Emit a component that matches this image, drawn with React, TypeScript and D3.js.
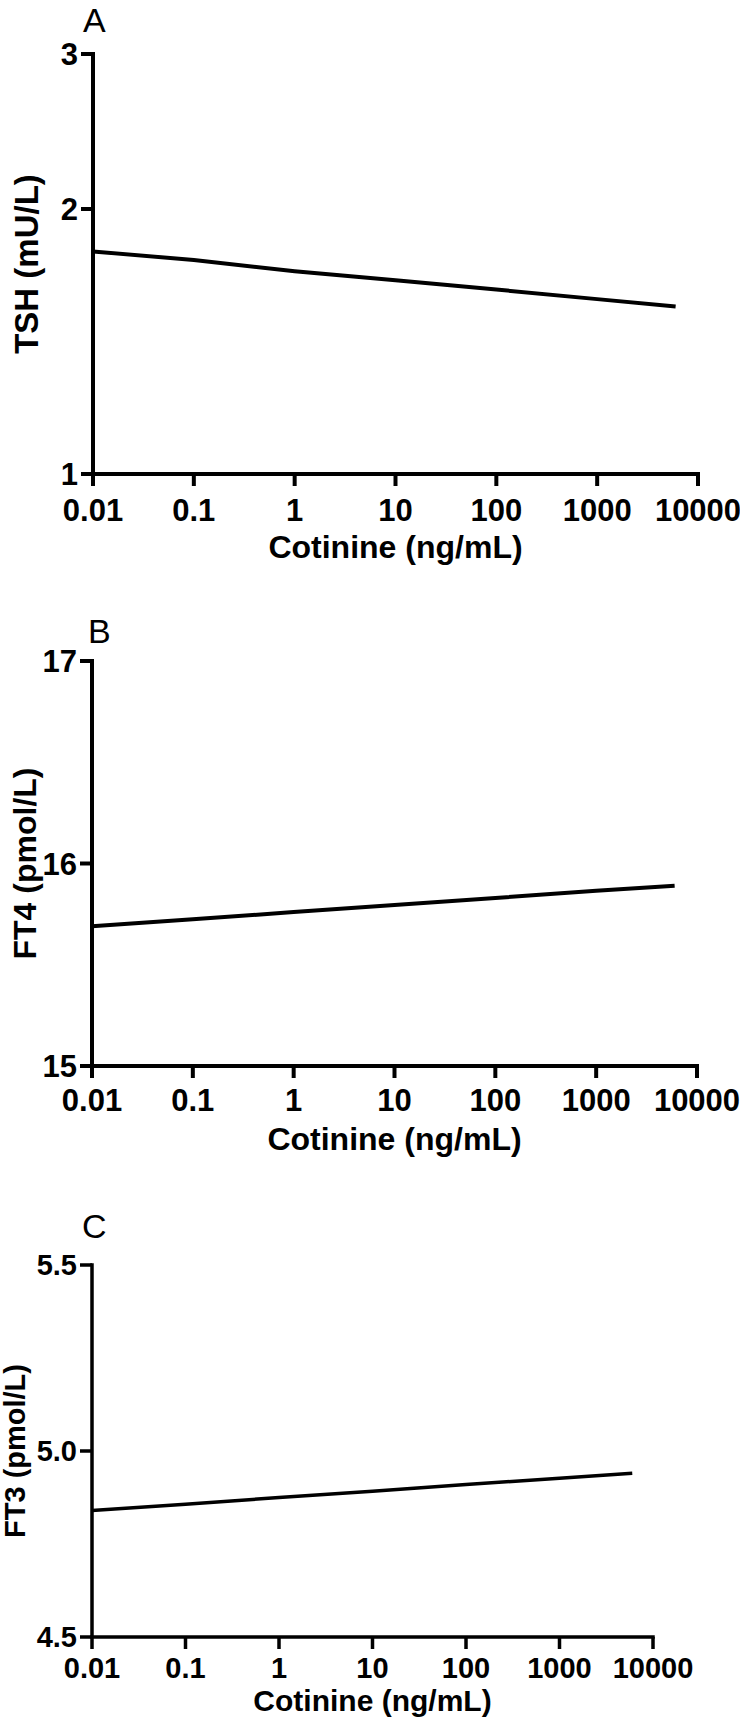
import React from "react";
import * as d3 from "d3";

// ---- data ----
const cotinineTicks = [0.01, 0.1, 1, 10, 100, 1000, 10000];
const cotinineTickLabels = ["0.01", "0.1", "1", "10", "100", "1000", "10000"];
const cotinine = [0.01, 0.1, 1, 10, 100, 1000, 6000];

const tsh = [1.79, 1.75, 1.7, 1.66, 1.62, 1.58, 1.55];
const tshTicks = [1, 2, 3];
const tshTickLabels = ["1", "2", "3"];

const ft4 = [15.69, 15.725, 15.76, 15.795, 15.83, 15.865, 15.89];
const ft4Ticks = [15, 16, 17];
const ft4TickLabels = ["15", "16", "17"];

const ft3 = [4.84, 4.857, 4.875, 4.892, 4.91, 4.927, 4.94];
const ft3Ticks = [4.5, 5.0, 5.5];
const ft3TickLabels = ["4.5", "5.0", "5.5"];

const xTitle = "Cotinine (ng/mL)";

const FONT = "'Liberation Sans', Arial, Helvetica, sans-serif";
const NARROW = "'Liberation Sans Narrow', 'Arial Narrow', 'Liberation Sans', Arial, sans-serif";

type PanelProps = {
  letter: string;
  letterX: number;
  letterY: number;
  yTitle: string;
  yTitleX: number;
  yTitleSize: number;
  x0: number;
  x1: number;
  yTop: number;
  yBot: number;
  yLog: boolean;
  yTicks: number[];
  yTickLabels: string[];
  values: number[];
  tickSize: number;
  xTitleSize: number;
  xLabelOffset: number;
  xTitleOffset: number;
  axisWidth: number;
  lineWidth: number;
};

function Panel(p: PanelProps) {
  const x = d3.scaleLog().domain([0.01, 10000]).range([p.x0, p.x1]);
  const yDomain = [p.yTicks[0], p.yTicks[p.yTicks.length - 1]];
  const y = p.yLog
    ? d3.scaleLog().domain(yDomain).range([p.yBot, p.yTop])
    : d3.scaleLinear().domain(yDomain).range([p.yBot, p.yTop]);
  const line = d3
    .line<number>()
    .x((_, i) => x(cotinine[i]))
    .y((d) => y(d));
  const tickLen = 12;
  const yMid = (p.yTop + p.yBot) / 2;
  return (
    <g>
      <text x={p.letterX} y={p.letterY} fontFamily={FONT} fontSize={34} fill="#000">
        {p.letter}
      </text>
      <line
        x1={p.x0}
        x2={p.x0}
        y1={p.yTop - p.axisWidth / 2}
        y2={p.yBot}
        stroke="#000"
        strokeWidth={p.axisWidth}
      />
      {p.yTicks.map((t, i) => (
        <g key={"y" + i}>
          <line
            x1={p.x0 - tickLen}
            x2={p.x0}
            y1={y(t)}
            y2={y(t)}
            stroke="#000"
            strokeWidth={p.axisWidth}
          />
          <text
            x={p.x0 - 15}
            y={y(t)}
            dy="0.36em"
            textAnchor="end"
            fontFamily={NARROW}
            fontWeight="bold"
            fontSize={p.tickSize}
            fill="#000"
          >
            {p.yTickLabels[i]}
          </text>
        </g>
      ))}
      <line
        x1={p.x0 - p.axisWidth / 2}
        x2={p.x1 + p.axisWidth / 2}
        y1={p.yBot}
        y2={p.yBot}
        stroke="#000"
        strokeWidth={p.axisWidth}
      />
      {cotinineTicks.map((t, i) => (
        <g key={"x" + i}>
          <line
            x1={x(t)}
            x2={x(t)}
            y1={p.yBot}
            y2={p.yBot + tickLen}
            stroke="#000"
            strokeWidth={p.axisWidth}
          />
          <text
            x={x(t)}
            y={p.yBot + p.xLabelOffset}
            textAnchor="middle"
            fontFamily={NARROW}
            fontWeight="bold"
            fontSize={p.tickSize}
            fill="#000"
          >
            {cotinineTickLabels[i]}
          </text>
        </g>
      ))}
      <text
        x={(p.x0 + p.x1) / 2}
        y={p.yBot + p.xTitleOffset}
        textAnchor="middle"
        fontFamily={FONT}
        fontWeight="bold"
        fontSize={p.xTitleSize}
        fill="#000"
      >
        {xTitle}
      </text>
      <text
        transform={`translate(${p.yTitleX},${yMid}) rotate(-90)`}
        dy="0.36em"
        textAnchor="middle"
        fontFamily={FONT}
        fontWeight="bold"
        fontSize={p.yTitleSize}
        fill="#000"
      >
        {p.yTitle}
      </text>
      <path d={line(p.values) || ""} fill="none" stroke="#000" strokeWidth={p.lineWidth} />
    </g>
  );
}

export default function App() {
  return (
    <svg
      width={740}
      height={1724}
      style={{ position: "absolute", left: 0, top: 0, background: "#fff" }}
    >
      <rect width={740} height={1724} fill="#fff" />
      <Panel
        letter="A"
        letterX={83}
        letterY={32}
        yTitle="TSH (mU/L)"
        yTitleX={26}
        yTitleSize={33}
        x0={93}
        x1={698}
        yTop={54}
        yBot={474}
        yLog={true}
        yTicks={tshTicks}
        yTickLabels={tshTickLabels}
        values={tsh}
        tickSize={31}
        xTitleSize={32}
        xLabelOffset={47}
        xTitleOffset={84}
        axisWidth={4}
        lineWidth={4}
      />
      <Panel
        letter="B"
        letterX={88}
        letterY={643}
        yTitle="FT4 (pmol/L)"
        yTitleX={24}
        yTitleSize={32}
        x0={92}
        x1={697}
        yTop={661}
        yBot={1066}
        yLog={false}
        yTicks={ft4Ticks}
        yTickLabels={ft4TickLabels}
        values={ft4}
        tickSize={31}
        xTitleSize={32}
        xLabelOffset={45}
        xTitleOffset={84}
        axisWidth={4}
        lineWidth={4}
      />
      <Panel
        letter="C"
        letterX={82}
        letterY={1238}
        yTitle="FT3 (pmol/L)"
        yTitleX={15}
        yTitleSize={29}
        x0={92}
        x1={653}
        yTop={1265}
        yBot={1637}
        yLog={false}
        yTicks={ft3Ticks}
        yTickLabels={ft3TickLabels}
        values={ft3}
        tickSize={29}
        xTitleSize={30}
        xLabelOffset={41}
        xTitleOffset={74}
        axisWidth={3.5}
        lineWidth={3.5}
      />
    </svg>
  );
}
